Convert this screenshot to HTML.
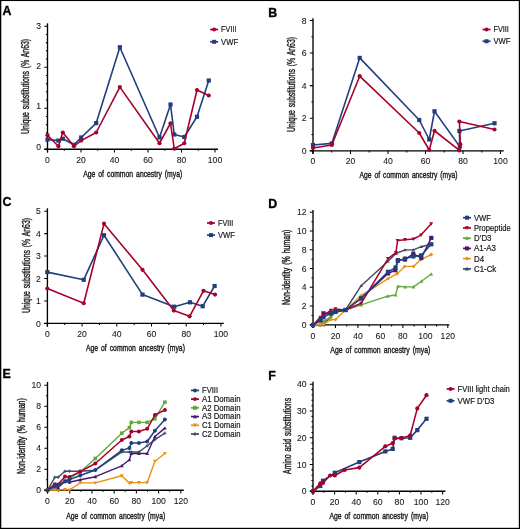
<!DOCTYPE html>
<html><head><meta charset="utf-8"><style>
html,body{margin:0;padding:0;background:#fff;}
svg{display:block;will-change:transform;}
</style></head><body>
<svg width="520" height="529" viewBox="0 0 520 529" font-family='"Liberation Sans", sans-serif'>
<rect width="520" height="529" fill="#fff"/>
<text x="2.6" y="14.7" font-size="12.4" text-anchor="start" font-weight="bold" fill="#000" stroke="#000" stroke-width="0.35">A</text>
<path d="M47.5,23.3V152.39999999999998" stroke="#000" stroke-width="1.35" fill="none"/>
<path d="M44.3,149.2H218" stroke="#000" stroke-width="1.35" fill="none"/>
<path d="M44.3,149.20H47.5M44.3,108.20H47.5M44.3,67.20H47.5M44.3,26.20H47.5M45.9,141.00H47.5M45.9,132.80H47.5M45.9,124.60H47.5M45.9,116.40H47.5M45.9,100.00H47.5M45.9,91.80H47.5M45.9,83.60H47.5M45.9,75.40H47.5M45.9,59.00H47.5M45.9,50.80H47.5M45.9,42.60H47.5M45.9,34.40H47.5M47.50,149.2V152.39999999999998M81.00,149.2V152.39999999999998M114.50,149.2V152.39999999999998M148.00,149.2V152.39999999999998M181.50,149.2V152.39999999999998M215.00,149.2V152.39999999999998M64.25,149.2V150.79999999999998M97.75,149.2V150.79999999999998M131.25,149.2V150.79999999999998M164.75,149.2V150.79999999999998M198.25,149.2V150.79999999999998" stroke="#000" stroke-width="1.05" fill="none"/>
<text x="41.0" y="149.7" font-size="8.6" text-anchor="end" font-weight="normal" fill="#1a1a1a" stroke="#1a1a1a" stroke-width="0.1">0</text>
<text x="41.0" y="109.44999999999999" font-size="8.6" text-anchor="end" font-weight="normal" fill="#1a1a1a" stroke="#1a1a1a" stroke-width="0.1">1</text>
<text x="41.0" y="69.19999999999999" font-size="8.6" text-anchor="end" font-weight="normal" fill="#1a1a1a" stroke="#1a1a1a" stroke-width="0.1">2</text>
<text x="41.0" y="28.949999999999996" font-size="8.6" text-anchor="end" font-weight="normal" fill="#1a1a1a" stroke="#1a1a1a" stroke-width="0.1">3</text>
<text x="47.5" y="162.79999999999998" font-size="8.6" text-anchor="middle" font-weight="normal" fill="#1a1a1a" stroke="#1a1a1a" stroke-width="0.1">0</text>
<text x="81.0" y="162.79999999999998" font-size="8.6" text-anchor="middle" font-weight="normal" fill="#1a1a1a" stroke="#1a1a1a" stroke-width="0.1">20</text>
<text x="114.5" y="162.79999999999998" font-size="8.6" text-anchor="middle" font-weight="normal" fill="#1a1a1a" stroke="#1a1a1a" stroke-width="0.1">40</text>
<text x="148.0" y="162.79999999999998" font-size="8.6" text-anchor="middle" font-weight="normal" fill="#1a1a1a" stroke="#1a1a1a" stroke-width="0.1">60</text>
<text x="181.5" y="162.79999999999998" font-size="8.6" text-anchor="middle" font-weight="normal" fill="#1a1a1a" stroke="#1a1a1a" stroke-width="0.1">80</text>
<text x="215.0" y="162.79999999999998" font-size="8.6" text-anchor="middle" font-weight="normal" fill="#1a1a1a" stroke="#1a1a1a" stroke-width="0.1">100</text>
<text transform="translate(29.3,86.4) rotate(-90)" font-size="10.2" text-anchor="middle" font-weight="normal" fill="#1a1a1a" textLength="95" lengthAdjust="spacingAndGlyphs" word-spacing="1.4" stroke="#1a1a1a" stroke-width="0.4">Unique substitutions (% An63)</text>
<text x="132.7" y="177.2" font-size="9.5" text-anchor="middle" font-weight="normal" fill="#1a1a1a" textLength="99" lengthAdjust="spacingAndGlyphs" word-spacing="1.6" stroke="#1a1a1a" stroke-width="0.4">Age of common ancestry (mya)</text>
<path d="M47.50,139.50 L58.40,140.60 L62.80,138.70 L74.00,144.80 L81.20,137.50 L96.20,123.10 L119.85,47.25 L159.50,137.50 L170.50,104.50 L174.25,134.50 L184.25,137.00 L197.00,116.75 L208.75,80.50" fill="none" stroke="#213f7e" stroke-width="1.6" stroke-linejoin="round"/>
<rect x="45.40" y="137.40" width="4.20" height="4.20" fill="#213f7e"/>
<rect x="56.30" y="138.50" width="4.20" height="4.20" fill="#213f7e"/>
<rect x="60.70" y="136.60" width="4.20" height="4.20" fill="#213f7e"/>
<rect x="71.90" y="142.70" width="4.20" height="4.20" fill="#213f7e"/>
<rect x="79.10" y="135.40" width="4.20" height="4.20" fill="#213f7e"/>
<rect x="94.10" y="121.00" width="4.20" height="4.20" fill="#213f7e"/>
<rect x="117.75" y="45.15" width="4.20" height="4.20" fill="#213f7e"/>
<rect x="157.40" y="135.40" width="4.20" height="4.20" fill="#213f7e"/>
<rect x="168.40" y="102.40" width="4.20" height="4.20" fill="#213f7e"/>
<rect x="172.15" y="132.40" width="4.20" height="4.20" fill="#213f7e"/>
<rect x="182.15" y="134.90" width="4.20" height="4.20" fill="#213f7e"/>
<rect x="194.90" y="114.65" width="4.20" height="4.20" fill="#213f7e"/>
<rect x="206.65" y="78.40" width="4.20" height="4.20" fill="#213f7e"/>
<path d="M47.50,135.20 L58.40,146.20 L62.80,132.50 L74.00,146.20 L81.20,140.60 L96.20,132.50 L119.85,87.10 L159.50,143.25 L170.50,123.25 L174.25,148.75 L184.25,143.25 L197.00,90.00 L208.75,95.50" fill="none" stroke="#a6022c" stroke-width="1.6" stroke-linejoin="round"/>
<circle cx="47.5" cy="135.2" r="2.1" fill="#a6022c"/>
<circle cx="58.4" cy="146.2" r="2.1" fill="#a6022c"/>
<circle cx="62.8" cy="132.5" r="2.1" fill="#a6022c"/>
<circle cx="74" cy="146.2" r="2.1" fill="#a6022c"/>
<circle cx="81.2" cy="140.6" r="2.1" fill="#a6022c"/>
<circle cx="96.2" cy="132.5" r="2.1" fill="#a6022c"/>
<circle cx="119.85" cy="87.1" r="2.1" fill="#a6022c"/>
<circle cx="159.5" cy="143.25" r="2.1" fill="#a6022c"/>
<circle cx="170.5" cy="123.25" r="2.1" fill="#a6022c"/>
<circle cx="174.25" cy="148.75" r="2.1" fill="#a6022c"/>
<circle cx="184.25" cy="143.25" r="2.1" fill="#a6022c"/>
<circle cx="197" cy="90" r="2.1" fill="#a6022c"/>
<circle cx="208.75" cy="95.5" r="2.1" fill="#a6022c"/>
<path d="M210.1,29.50H218.1" stroke="#a6022c" stroke-width="1.7"/>
<circle cx="214.1" cy="29.5" r="1.9949999999999999" fill="#a6022c"/>
<text x="221.1" y="32.4" font-size="8.2" text-anchor="start" font-weight="normal" fill="#1a1a1a" textLength="15.4" lengthAdjust="spacingAndGlyphs" stroke="#1a1a1a" stroke-width="0.2">FVIII</text>
<path d="M210.1,41.80H218.1" stroke="#213f7e" stroke-width="1.7"/>
<rect x="212.10" y="39.80" width="3.99" height="3.99" fill="#213f7e"/>
<text x="221.1" y="44.699999999999996" font-size="8.2" text-anchor="start" font-weight="normal" fill="#1a1a1a" textLength="17" lengthAdjust="spacingAndGlyphs" stroke="#1a1a1a" stroke-width="0.2">VWF</text>
<text x="268.2" y="16.5" font-size="12.4" text-anchor="start" font-weight="bold" fill="#000" stroke="#000" stroke-width="0.35">B</text>
<path d="M313,18.3V154.0" stroke="#000" stroke-width="1.35" fill="none"/>
<path d="M309.8,150.8H503.75" stroke="#000" stroke-width="1.35" fill="none"/>
<path d="M309.8,150.80H313M309.8,118.20H313M309.8,85.60H313M309.8,53.00H313M309.8,20.40H313M311.4,134.50H313M311.4,101.90H313M311.4,69.30H313M311.4,36.70H313M313.00,150.8V154.0M350.50,150.8V154.0M388.00,150.8V154.0M425.50,150.8V154.0M463.00,150.8V154.0M500.50,150.8V154.0M331.75,150.8V152.4M369.25,150.8V152.4M406.75,150.8V152.4M444.25,150.8V152.4M481.75,150.8V152.4" stroke="#000" stroke-width="1.05" fill="none"/>
<text x="306.5" y="153.9" font-size="8.6" text-anchor="end" font-weight="normal" fill="#1a1a1a" stroke="#1a1a1a" stroke-width="0.1">0</text>
<text x="306.5" y="121.30000000000001" font-size="8.6" text-anchor="end" font-weight="normal" fill="#1a1a1a" stroke="#1a1a1a" stroke-width="0.1">2</text>
<text x="306.5" y="88.7" font-size="8.6" text-anchor="end" font-weight="normal" fill="#1a1a1a" stroke="#1a1a1a" stroke-width="0.1">4</text>
<text x="306.5" y="56.1" font-size="8.6" text-anchor="end" font-weight="normal" fill="#1a1a1a" stroke="#1a1a1a" stroke-width="0.1">6</text>
<text x="306.5" y="23.500000000000007" font-size="8.6" text-anchor="end" font-weight="normal" fill="#1a1a1a" stroke="#1a1a1a" stroke-width="0.1">8</text>
<text x="313.0" y="164.4" font-size="8.6" text-anchor="middle" font-weight="normal" fill="#1a1a1a" stroke="#1a1a1a" stroke-width="0.1">0</text>
<text x="350.5" y="164.4" font-size="8.6" text-anchor="middle" font-weight="normal" fill="#1a1a1a" stroke="#1a1a1a" stroke-width="0.1">20</text>
<text x="388.0" y="164.4" font-size="8.6" text-anchor="middle" font-weight="normal" fill="#1a1a1a" stroke="#1a1a1a" stroke-width="0.1">40</text>
<text x="425.5" y="164.4" font-size="8.6" text-anchor="middle" font-weight="normal" fill="#1a1a1a" stroke="#1a1a1a" stroke-width="0.1">60</text>
<text x="463.0" y="164.4" font-size="8.6" text-anchor="middle" font-weight="normal" fill="#1a1a1a" stroke="#1a1a1a" stroke-width="0.1">80</text>
<text x="500.5" y="164.4" font-size="8.6" text-anchor="middle" font-weight="normal" fill="#1a1a1a" stroke="#1a1a1a" stroke-width="0.1">100</text>
<text transform="translate(294.6,84.5) rotate(-90)" font-size="10.2" text-anchor="middle" font-weight="normal" fill="#1a1a1a" textLength="95" lengthAdjust="spacingAndGlyphs" word-spacing="1.4" stroke="#1a1a1a" stroke-width="0.4">Unique substitutions (% An63)</text>
<text x="408.5" y="178" font-size="9.5" text-anchor="middle" font-weight="normal" fill="#1a1a1a" textLength="98" lengthAdjust="spacingAndGlyphs" word-spacing="1.6" stroke="#1a1a1a" stroke-width="0.4">Age of common ancestry (mya)</text>
<path d="M313.00,145.00 L331.80,143.40 L359.70,57.90 L419.25,120.00 L429.25,139.50 L434.50,111.25 L459.80,146.60 L459.40,131.00 L494.50,123.25" fill="none" stroke="#213f7e" stroke-width="1.6" stroke-linejoin="round"/>
<rect x="310.90" y="142.90" width="4.20" height="4.20" fill="#213f7e"/>
<rect x="329.70" y="141.30" width="4.20" height="4.20" fill="#213f7e"/>
<rect x="357.60" y="55.80" width="4.20" height="4.20" fill="#213f7e"/>
<rect x="417.15" y="117.90" width="4.20" height="4.20" fill="#213f7e"/>
<rect x="427.15" y="137.40" width="4.20" height="4.20" fill="#213f7e"/>
<rect x="432.40" y="109.15" width="4.20" height="4.20" fill="#213f7e"/>
<rect x="457.70" y="144.50" width="4.20" height="4.20" fill="#213f7e"/>
<rect x="457.30" y="128.90" width="4.20" height="4.20" fill="#213f7e"/>
<rect x="492.40" y="121.15" width="4.20" height="4.20" fill="#213f7e"/>
<path d="M313.00,148.00 L331.80,145.00 L359.70,76.20 L419.25,133.00 L429.25,150.00 L434.50,130.75 L459.40,150.40 L460.30,144.20 L459.40,121.50 L494.50,129.50" fill="none" stroke="#a6022c" stroke-width="1.6" stroke-linejoin="round"/>
<circle cx="313" cy="148" r="2.1" fill="#a6022c"/>
<circle cx="331.8" cy="145" r="2.1" fill="#a6022c"/>
<circle cx="359.7" cy="76.2" r="2.1" fill="#a6022c"/>
<circle cx="419.25" cy="133" r="2.1" fill="#a6022c"/>
<circle cx="429.25" cy="150" r="2.1" fill="#a6022c"/>
<circle cx="434.5" cy="130.75" r="2.1" fill="#a6022c"/>
<circle cx="459.4" cy="150.4" r="2.1" fill="#a6022c"/>
<circle cx="460.3" cy="144.2" r="2.1" fill="#a6022c"/>
<circle cx="459.4" cy="121.5" r="2.1" fill="#a6022c"/>
<circle cx="494.5" cy="129.5" r="2.1" fill="#a6022c"/>
<path d="M482.5,29.50H490.5" stroke="#a6022c" stroke-width="1.7"/>
<circle cx="486.5" cy="29.5" r="1.9949999999999999" fill="#a6022c"/>
<text x="493.5" y="32.4" font-size="8.2" text-anchor="start" font-weight="normal" fill="#1a1a1a" textLength="15.4" lengthAdjust="spacingAndGlyphs" stroke="#1a1a1a" stroke-width="0.2">FVIII</text>
<path d="M482.5,41.25H490.5" stroke="#213f7e" stroke-width="1.7"/>
<rect x="484.50" y="39.26" width="3.99" height="3.99" fill="#213f7e"/>
<text x="493.5" y="44.15" font-size="8.2" text-anchor="start" font-weight="normal" fill="#1a1a1a" textLength="17" lengthAdjust="spacingAndGlyphs" stroke="#1a1a1a" stroke-width="0.2">VWF</text>
<text x="2.4" y="206.2" font-size="12.4" text-anchor="start" font-weight="bold" fill="#000" stroke="#000" stroke-width="0.35">C</text>
<path d="M47.4,208.3V326.59999999999997" stroke="#000" stroke-width="1.35" fill="none"/>
<path d="M44.199999999999996,323.4H223.8" stroke="#000" stroke-width="1.35" fill="none"/>
<path d="M44.199999999999996,323.40H47.4M44.199999999999996,300.95H47.4M44.199999999999996,278.50H47.4M44.199999999999996,256.05H47.4M44.199999999999996,233.60H47.4M44.199999999999996,211.15H47.4M47.40,323.4V326.59999999999997M82.10,323.4V326.59999999999997M116.80,323.4V326.59999999999997M151.50,323.4V326.59999999999997M186.20,323.4V326.59999999999997M220.90,323.4V326.59999999999997M64.75,323.4V325.0M99.45,323.4V325.0M134.15,323.4V325.0M168.85,323.4V325.0M203.55,323.4V325.0" stroke="#000" stroke-width="1.05" fill="none"/>
<text x="40.9" y="326.5" font-size="8.6" text-anchor="end" font-weight="normal" fill="#1a1a1a" stroke="#1a1a1a" stroke-width="0.1">0</text>
<text x="40.9" y="304.05" font-size="8.6" text-anchor="end" font-weight="normal" fill="#1a1a1a" stroke="#1a1a1a" stroke-width="0.1">1</text>
<text x="40.9" y="281.6" font-size="8.6" text-anchor="end" font-weight="normal" fill="#1a1a1a" stroke="#1a1a1a" stroke-width="0.1">2</text>
<text x="40.9" y="259.15" font-size="8.6" text-anchor="end" font-weight="normal" fill="#1a1a1a" stroke="#1a1a1a" stroke-width="0.1">3</text>
<text x="40.9" y="236.69999999999996" font-size="8.6" text-anchor="end" font-weight="normal" fill="#1a1a1a" stroke="#1a1a1a" stroke-width="0.1">4</text>
<text x="40.9" y="214.24999999999997" font-size="8.6" text-anchor="end" font-weight="normal" fill="#1a1a1a" stroke="#1a1a1a" stroke-width="0.1">5</text>
<text x="47.4" y="337.0" font-size="8.6" text-anchor="middle" font-weight="normal" fill="#1a1a1a" stroke="#1a1a1a" stroke-width="0.1">0</text>
<text x="82.1" y="337.0" font-size="8.6" text-anchor="middle" font-weight="normal" fill="#1a1a1a" stroke="#1a1a1a" stroke-width="0.1">20</text>
<text x="116.80000000000001" y="337.0" font-size="8.6" text-anchor="middle" font-weight="normal" fill="#1a1a1a" stroke="#1a1a1a" stroke-width="0.1">40</text>
<text x="151.5" y="337.0" font-size="8.6" text-anchor="middle" font-weight="normal" fill="#1a1a1a" stroke="#1a1a1a" stroke-width="0.1">60</text>
<text x="186.20000000000002" y="337.0" font-size="8.6" text-anchor="middle" font-weight="normal" fill="#1a1a1a" stroke="#1a1a1a" stroke-width="0.1">80</text>
<text x="220.9" y="337.0" font-size="8.6" text-anchor="middle" font-weight="normal" fill="#1a1a1a" stroke="#1a1a1a" stroke-width="0.1">100</text>
<text transform="translate(29.8,265.5) rotate(-90)" font-size="10.2" text-anchor="middle" font-weight="normal" fill="#1a1a1a" textLength="95" lengthAdjust="spacingAndGlyphs" word-spacing="1.4" stroke="#1a1a1a" stroke-width="0.4">Unique substitutions (% An63)</text>
<text x="135.4" y="351" font-size="9.5" text-anchor="middle" font-weight="normal" fill="#1a1a1a" textLength="99" lengthAdjust="spacingAndGlyphs" word-spacing="1.6" stroke="#1a1a1a" stroke-width="0.4">Age of common ancestry (mya)</text>
<path d="M47.30,272.10 L83.70,279.80 L104.00,235.20 L142.50,294.60 L174.20,306.70 L190.00,302.30 L202.70,306.20 L214.60,286.00" fill="none" stroke="#213f7e" stroke-width="1.6" stroke-linejoin="round"/>
<rect x="45.20" y="270.00" width="4.20" height="4.20" fill="#213f7e"/>
<rect x="81.60" y="277.70" width="4.20" height="4.20" fill="#213f7e"/>
<rect x="101.90" y="233.10" width="4.20" height="4.20" fill="#213f7e"/>
<rect x="140.40" y="292.50" width="4.20" height="4.20" fill="#213f7e"/>
<rect x="172.10" y="304.60" width="4.20" height="4.20" fill="#213f7e"/>
<rect x="187.90" y="300.20" width="4.20" height="4.20" fill="#213f7e"/>
<rect x="200.60" y="304.10" width="4.20" height="4.20" fill="#213f7e"/>
<rect x="212.50" y="283.90" width="4.20" height="4.20" fill="#213f7e"/>
<path d="M47.30,288.50 L83.75,303.25 L104.00,223.65 L142.50,269.80 L173.80,310.60 L189.60,316.30 L203.50,290.80 L215.00,294.60" fill="none" stroke="#a6022c" stroke-width="1.6" stroke-linejoin="round"/>
<circle cx="47.3" cy="288.5" r="2.1" fill="#a6022c"/>
<circle cx="83.75" cy="303.25" r="2.1" fill="#a6022c"/>
<circle cx="104" cy="223.65" r="2.1" fill="#a6022c"/>
<circle cx="142.5" cy="269.8" r="2.1" fill="#a6022c"/>
<circle cx="173.8" cy="310.6" r="2.1" fill="#a6022c"/>
<circle cx="189.6" cy="316.3" r="2.1" fill="#a6022c"/>
<circle cx="203.5" cy="290.8" r="2.1" fill="#a6022c"/>
<circle cx="215" cy="294.6" r="2.1" fill="#a6022c"/>
<path d="M207,223.00H215" stroke="#a6022c" stroke-width="1.7"/>
<circle cx="211" cy="223.0" r="1.9949999999999999" fill="#a6022c"/>
<text x="218" y="225.9" font-size="8.2" text-anchor="start" font-weight="normal" fill="#1a1a1a" textLength="15.4" lengthAdjust="spacingAndGlyphs" stroke="#1a1a1a" stroke-width="0.2">FVIII</text>
<path d="M207,235.10H215" stroke="#213f7e" stroke-width="1.7"/>
<rect x="209.00" y="233.10" width="3.99" height="3.99" fill="#213f7e"/>
<text x="218" y="238.0" font-size="8.2" text-anchor="start" font-weight="normal" fill="#1a1a1a" textLength="17" lengthAdjust="spacingAndGlyphs" stroke="#1a1a1a" stroke-width="0.2">VWF</text>
<text x="268.2" y="207.6" font-size="12.4" text-anchor="start" font-weight="bold" fill="#000" stroke="#000" stroke-width="0.35">D</text>
<path d="M313,210V328.0" stroke="#000" stroke-width="1.35" fill="none"/>
<path d="M309.8,324.8H449.4" stroke="#000" stroke-width="1.35" fill="none"/>
<path d="M309.8,324.80H313M309.8,306.05H313M309.8,287.30H313M309.8,268.55H313M309.8,249.80H313M309.8,231.05H313M309.8,212.30H313M311.4,315.43H313M311.4,296.68H313M311.4,277.93H313M311.4,259.18H313M311.4,240.43H313M311.4,221.68H313M313.00,324.8V328.0M335.47,324.8V328.0M357.93,324.8V328.0M380.40,324.8V328.0M402.86,324.8V328.0M425.33,324.8V328.0M447.80,324.8V328.0M324.23,324.8V326.40000000000003M346.70,324.8V326.40000000000003M369.17,324.8V326.40000000000003M391.63,324.8V326.40000000000003M414.10,324.8V326.40000000000003M436.56,324.8V326.40000000000003" stroke="#000" stroke-width="1.05" fill="none"/>
<text x="306.5" y="327.90000000000003" font-size="8.6" text-anchor="end" font-weight="normal" fill="#1a1a1a" stroke="#1a1a1a" stroke-width="0.1">0</text>
<text x="306.5" y="309.15000000000003" font-size="8.6" text-anchor="end" font-weight="normal" fill="#1a1a1a" stroke="#1a1a1a" stroke-width="0.1">2</text>
<text x="306.5" y="290.40000000000003" font-size="8.6" text-anchor="end" font-weight="normal" fill="#1a1a1a" stroke="#1a1a1a" stroke-width="0.1">4</text>
<text x="306.5" y="271.65000000000003" font-size="8.6" text-anchor="end" font-weight="normal" fill="#1a1a1a" stroke="#1a1a1a" stroke-width="0.1">6</text>
<text x="306.5" y="252.9" font-size="8.6" text-anchor="end" font-weight="normal" fill="#1a1a1a" stroke="#1a1a1a" stroke-width="0.1">8</text>
<text x="306.5" y="234.15" font-size="8.6" text-anchor="end" font-weight="normal" fill="#1a1a1a" stroke="#1a1a1a" stroke-width="0.1">10</text>
<text x="306.5" y="215.4" font-size="8.6" text-anchor="end" font-weight="normal" fill="#1a1a1a" stroke="#1a1a1a" stroke-width="0.1">12</text>
<text x="313.0" y="339.1" font-size="8.6" text-anchor="middle" font-weight="normal" fill="#1a1a1a" stroke="#1a1a1a" stroke-width="0.1">0</text>
<text x="335.466" y="339.1" font-size="8.6" text-anchor="middle" font-weight="normal" fill="#1a1a1a" stroke="#1a1a1a" stroke-width="0.1">20</text>
<text x="357.932" y="339.1" font-size="8.6" text-anchor="middle" font-weight="normal" fill="#1a1a1a" stroke="#1a1a1a" stroke-width="0.1">40</text>
<text x="380.398" y="339.1" font-size="8.6" text-anchor="middle" font-weight="normal" fill="#1a1a1a" stroke="#1a1a1a" stroke-width="0.1">60</text>
<text x="402.86400000000003" y="339.1" font-size="8.6" text-anchor="middle" font-weight="normal" fill="#1a1a1a" stroke="#1a1a1a" stroke-width="0.1">80</text>
<text x="425.33" y="339.1" font-size="8.6" text-anchor="middle" font-weight="normal" fill="#1a1a1a" stroke="#1a1a1a" stroke-width="0.1">100</text>
<text x="447.796" y="339.1" font-size="8.6" text-anchor="middle" font-weight="normal" fill="#1a1a1a" stroke="#1a1a1a" stroke-width="0.1">120</text>
<text transform="translate(290.1,267.3) rotate(-90)" font-size="10.2" text-anchor="middle" font-weight="normal" fill="#1a1a1a" textLength="75.5" lengthAdjust="spacingAndGlyphs" word-spacing="1.4" stroke="#1a1a1a" stroke-width="0.4">Non-identity (% human)</text>
<text x="380.3" y="352.5" font-size="9.5" text-anchor="middle" font-weight="normal" fill="#1a1a1a" textLength="100" lengthAdjust="spacingAndGlyphs" word-spacing="1.6" stroke="#1a1a1a" stroke-width="0.4">Age of common ancestry (mya)</text>
<path d="M313.00,325.00 L320.40,325.00 L323.50,324.20 L330.80,316.50 L335.40,312.00 L345.50,310.00 L361.20,285.70 L388.00,261.20 L396.00,253.50 L405.00,249.90 L413.30,249.90 L421.30,246.70 L431.30,244.30" fill="none" stroke="#3c4a64" stroke-width="1.4" stroke-linejoin="round"/>
<path d="M311.24,326.41L314.76,326.41L313.00,323.24Z" fill="#3c4a64"/>
<path d="M318.64,326.41L322.16,326.41L320.40,323.24Z" fill="#3c4a64"/>
<path d="M321.74,325.61L325.26,325.61L323.50,322.44Z" fill="#3c4a64"/>
<path d="M329.04,317.91L332.56,317.91L330.80,314.74Z" fill="#3c4a64"/>
<path d="M333.64,313.41L337.16,313.41L335.40,310.24Z" fill="#3c4a64"/>
<path d="M343.74,311.41L347.26,311.41L345.50,308.24Z" fill="#3c4a64"/>
<path d="M359.44,287.11L362.96,287.11L361.20,283.94Z" fill="#3c4a64"/>
<path d="M386.24,262.61L389.76,262.61L388.00,259.44Z" fill="#3c4a64"/>
<path d="M394.24,254.91L397.76,254.91L396.00,251.74Z" fill="#3c4a64"/>
<path d="M403.24,251.31L406.76,251.31L405.00,248.14Z" fill="#3c4a64"/>
<path d="M411.54,251.31L415.06,251.31L413.30,248.14Z" fill="#3c4a64"/>
<path d="M419.54,248.11L423.06,248.11L421.30,244.94Z" fill="#3c4a64"/>
<path d="M429.54,245.71L433.06,245.71L431.30,242.54Z" fill="#3c4a64"/>
<path d="M313.00,325.00 L320.40,325.00 L323.50,321.40 L330.80,317.00 L335.40,312.50 L345.50,310.00 L361.20,304.90 L387.50,296.20 L395.60,295.00 L397.90,286.30 L405.20,286.90 L413.50,286.90 L421.50,281.20 L431.30,274.00" fill="none" stroke="#62a83c" stroke-width="1.4" stroke-linejoin="round"/>
<path d="M311.13,326.50L314.87,326.50L313.00,323.13Z" fill="#62a83c"/>
<path d="M318.53,326.50L322.27,326.50L320.40,323.13Z" fill="#62a83c"/>
<path d="M321.63,322.90L325.37,322.90L323.50,319.53Z" fill="#62a83c"/>
<path d="M328.93,318.50L332.67,318.50L330.80,315.13Z" fill="#62a83c"/>
<path d="M333.53,314.00L337.27,314.00L335.40,310.63Z" fill="#62a83c"/>
<path d="M343.63,311.50L347.37,311.50L345.50,308.13Z" fill="#62a83c"/>
<path d="M359.33,306.40L363.07,306.40L361.20,303.03Z" fill="#62a83c"/>
<path d="M385.63,297.70L389.37,297.70L387.50,294.33Z" fill="#62a83c"/>
<path d="M393.73,296.50L397.47,296.50L395.60,293.13Z" fill="#62a83c"/>
<path d="M396.03,287.80L399.77,287.80L397.90,284.43Z" fill="#62a83c"/>
<path d="M403.33,288.40L407.07,288.40L405.20,285.03Z" fill="#62a83c"/>
<path d="M411.63,288.40L415.37,288.40L413.50,285.03Z" fill="#62a83c"/>
<path d="M419.63,282.70L423.37,282.70L421.50,279.33Z" fill="#62a83c"/>
<path d="M429.43,275.50L433.17,275.50L431.30,272.13Z" fill="#62a83c"/>
<path d="M313.00,325.00 L320.40,324.20 L323.50,324.40 L330.80,319.60 L335.50,319.60 L345.50,310.00 L361.20,295.60 L388.10,278.60 L397.10,273.70 L404.80,266.40 L413.50,266.40 L420.70,259.60 L431.30,254.50" fill="none" stroke="#e9920f" stroke-width="1.4" stroke-linejoin="round"/>
<path d="M311.05,325.00L313.00,323.05L314.95,325.00L313.00,326.95Z" fill="#e9920f"/>
<path d="M318.44,324.20L320.40,322.25L322.35,324.20L320.40,326.15Z" fill="#e9920f"/>
<path d="M321.55,324.40L323.50,322.44L325.45,324.40L323.50,326.35Z" fill="#e9920f"/>
<path d="M328.85,319.60L330.80,317.65L332.75,319.60L330.80,321.56Z" fill="#e9920f"/>
<path d="M333.55,319.60L335.50,317.65L337.45,319.60L335.50,321.56Z" fill="#e9920f"/>
<path d="M343.55,310.00L345.50,308.05L347.45,310.00L345.50,311.95Z" fill="#e9920f"/>
<path d="M359.25,295.60L361.20,293.65L363.15,295.60L361.20,297.56Z" fill="#e9920f"/>
<path d="M386.15,278.60L388.10,276.65L390.06,278.60L388.10,280.56Z" fill="#e9920f"/>
<path d="M395.15,273.70L397.10,271.75L399.06,273.70L397.10,275.65Z" fill="#e9920f"/>
<path d="M402.85,266.40L404.80,264.44L406.75,266.40L404.80,268.35Z" fill="#e9920f"/>
<path d="M411.55,266.40L413.50,264.44L415.45,266.40L413.50,268.35Z" fill="#e9920f"/>
<path d="M418.75,259.60L420.70,257.65L422.65,259.60L420.70,261.56Z" fill="#e9920f"/>
<path d="M429.35,254.50L431.30,252.54L433.25,254.50L431.30,256.45Z" fill="#e9920f"/>
<path d="M313.00,325.00 L320.40,320.50 L323.50,313.30 L330.80,313.50 L335.40,311.80 L345.50,310.00 L361.20,298.50 L388.00,273.40 L395.30,270.20 L398.00,260.20 L405.00,259.60 L413.30,253.80 L421.30,258.00 L431.30,237.90" fill="none" stroke="#46186f" stroke-width="1.5" stroke-linejoin="round"/>
<rect x="310.90" y="322.90" width="4.20" height="4.20" fill="#46186f"/>
<rect x="318.30" y="318.40" width="4.20" height="4.20" fill="#46186f"/>
<rect x="321.40" y="311.20" width="4.20" height="4.20" fill="#46186f"/>
<rect x="328.70" y="311.40" width="4.20" height="4.20" fill="#46186f"/>
<rect x="333.30" y="309.70" width="4.20" height="4.20" fill="#46186f"/>
<rect x="343.40" y="307.90" width="4.20" height="4.20" fill="#46186f"/>
<rect x="359.10" y="296.40" width="4.20" height="4.20" fill="#46186f"/>
<rect x="385.90" y="271.30" width="4.20" height="4.20" fill="#46186f"/>
<rect x="393.20" y="268.10" width="4.20" height="4.20" fill="#46186f"/>
<rect x="395.90" y="258.10" width="4.20" height="4.20" fill="#46186f"/>
<rect x="402.90" y="257.50" width="4.20" height="4.20" fill="#46186f"/>
<rect x="411.20" y="251.70" width="4.20" height="4.20" fill="#46186f"/>
<rect x="419.20" y="255.90" width="4.20" height="4.20" fill="#46186f"/>
<rect x="429.20" y="235.80" width="4.20" height="4.20" fill="#46186f"/>
<path d="M313.00,325.00 L320.40,317.30 L323.50,315.30 L330.80,310.40 L335.40,308.90 L345.50,310.00 L361.20,303.30 L388.00,258.60 L395.90,252.70 L397.60,240.60 L405.00,239.70 L413.40,239.00 L421.00,235.10 L431.20,223.80" fill="none" stroke="#a6022c" stroke-width="1.5" stroke-linejoin="round"/>
<path d="M311.02,323.42L314.98,323.42L313.00,326.98Z" fill="#a6022c"/>
<path d="M318.42,315.72L322.38,315.72L320.40,319.28Z" fill="#a6022c"/>
<path d="M321.52,313.72L325.48,313.72L323.50,317.28Z" fill="#a6022c"/>
<path d="M328.82,308.82L332.78,308.82L330.80,312.38Z" fill="#a6022c"/>
<path d="M333.42,307.32L337.38,307.32L335.40,310.88Z" fill="#a6022c"/>
<path d="M343.52,308.42L347.48,308.42L345.50,311.98Z" fill="#a6022c"/>
<path d="M359.22,301.72L363.18,301.72L361.20,305.28Z" fill="#a6022c"/>
<path d="M386.02,257.02L389.98,257.02L388.00,260.58Z" fill="#a6022c"/>
<path d="M393.92,251.12L397.88,251.12L395.90,254.68Z" fill="#a6022c"/>
<path d="M395.62,239.02L399.58,239.02L397.60,242.58Z" fill="#a6022c"/>
<path d="M403.02,238.12L406.98,238.12L405.00,241.68Z" fill="#a6022c"/>
<path d="M411.42,237.42L415.38,237.42L413.40,240.98Z" fill="#a6022c"/>
<path d="M419.02,233.52L422.98,233.52L421.00,237.08Z" fill="#a6022c"/>
<path d="M429.22,222.22L433.18,222.22L431.20,225.78Z" fill="#a6022c"/>
<path d="M313.00,325.00 L320.40,319.60 L323.50,317.30 L330.80,313.00 L335.40,311.50 L345.50,310.00 L361.20,298.30 L388.00,271.80 L395.50,267.60 L397.80,260.70 L405.00,258.60 L413.40,256.40 L421.00,255.40 L431.30,244.30" fill="none" stroke="#213f7e" stroke-width="1.5" stroke-linejoin="round"/>
<rect x="310.90" y="322.90" width="4.20" height="4.20" fill="#213f7e"/>
<rect x="318.30" y="317.50" width="4.20" height="4.20" fill="#213f7e"/>
<rect x="321.40" y="315.20" width="4.20" height="4.20" fill="#213f7e"/>
<rect x="328.70" y="310.90" width="4.20" height="4.20" fill="#213f7e"/>
<rect x="333.30" y="309.40" width="4.20" height="4.20" fill="#213f7e"/>
<rect x="343.40" y="307.90" width="4.20" height="4.20" fill="#213f7e"/>
<rect x="359.10" y="296.20" width="4.20" height="4.20" fill="#213f7e"/>
<rect x="385.90" y="269.70" width="4.20" height="4.20" fill="#213f7e"/>
<rect x="393.40" y="265.50" width="4.20" height="4.20" fill="#213f7e"/>
<rect x="395.70" y="258.60" width="4.20" height="4.20" fill="#213f7e"/>
<rect x="402.90" y="256.50" width="4.20" height="4.20" fill="#213f7e"/>
<rect x="411.30" y="254.30" width="4.20" height="4.20" fill="#213f7e"/>
<rect x="418.90" y="253.30" width="4.20" height="4.20" fill="#213f7e"/>
<rect x="429.20" y="242.20" width="4.20" height="4.20" fill="#213f7e"/>
<path d="M463,217.70H471" stroke="#213f7e" stroke-width="1.7"/>
<rect x="465.00" y="215.70" width="3.99" height="3.99" fill="#213f7e"/>
<text x="474" y="220.6" font-size="8.2" text-anchor="start" font-weight="normal" fill="#1a1a1a" textLength="17" lengthAdjust="spacingAndGlyphs" stroke="#1a1a1a" stroke-width="0.2">VWF</text>
<path d="M463,227.93H471" stroke="#a6022c" stroke-width="1.7"/>
<path d="M464.91,226.26L469.09,226.26L467.00,230.02Z" fill="#a6022c"/>
<text x="474" y="230.82999999999998" font-size="8.2" text-anchor="start" font-weight="normal" fill="#1a1a1a" textLength="36.8" lengthAdjust="spacingAndGlyphs" stroke="#1a1a1a" stroke-width="0.2">Propeptide</text>
<path d="M463,238.16H471" stroke="#62a83c" stroke-width="1.7"/>
<path d="M464.91,239.83L469.09,239.83L467.00,236.07Z" fill="#62a83c"/>
<text x="474" y="241.06" font-size="8.2" text-anchor="start" font-weight="normal" fill="#1a1a1a" textLength="17.5" lengthAdjust="spacingAndGlyphs" stroke="#1a1a1a" stroke-width="0.2">D&#8217;D3</text>
<path d="M463,248.39H471" stroke="#46186f" stroke-width="1.7"/>
<rect x="465.00" y="246.39" width="3.99" height="3.99" fill="#46186f"/>
<text x="474" y="251.29" font-size="8.2" text-anchor="start" font-weight="normal" fill="#1a1a1a" textLength="22" lengthAdjust="spacingAndGlyphs" stroke="#1a1a1a" stroke-width="0.2">A1-A3</text>
<path d="M463,258.62H471" stroke="#e9920f" stroke-width="1.7"/>
<path d="M464.81,258.62L467.00,256.44L469.19,258.62L467.00,260.81Z" fill="#e9920f"/>
<text x="474" y="261.52" font-size="8.2" text-anchor="start" font-weight="normal" fill="#1a1a1a" textLength="10" lengthAdjust="spacingAndGlyphs" stroke="#1a1a1a" stroke-width="0.2">D4</text>
<path d="M463,268.85H471" stroke="#3c4a64" stroke-width="1.7"/>
<path d="M464.91,270.52L469.09,270.52L467.00,266.76Z" fill="#3c4a64"/>
<text x="474" y="271.75" font-size="8.2" text-anchor="start" font-weight="normal" fill="#1a1a1a" textLength="22.3" lengthAdjust="spacingAndGlyphs" stroke="#1a1a1a" stroke-width="0.2">C1-Ck</text>
<text x="2.6" y="378.4" font-size="12.4" text-anchor="start" font-weight="bold" fill="#000" stroke="#000" stroke-width="0.35">E</text>
<path d="M47.5,382V493.4" stroke="#000" stroke-width="1.35" fill="none"/>
<path d="M44.3,490.2H183.8" stroke="#000" stroke-width="1.35" fill="none"/>
<path d="M44.3,490.20H47.5M44.3,469.20H47.5M44.3,448.20H47.5M44.3,427.20H47.5M44.3,406.20H47.5M44.3,385.20H47.5M45.9,479.70H47.5M45.9,458.70H47.5M45.9,437.70H47.5M45.9,416.70H47.5M45.9,395.70H47.5M47.50,490.2V493.4M69.72,490.2V493.4M91.94,490.2V493.4M114.16,490.2V493.4M136.38,490.2V493.4M158.60,490.2V493.4M180.82,490.2V493.4M58.61,490.2V491.8M80.83,490.2V491.8M103.05,490.2V491.8M125.27,490.2V491.8M147.49,490.2V491.8M169.71,490.2V491.8" stroke="#000" stroke-width="1.05" fill="none"/>
<text x="41.0" y="493.3" font-size="8.6" text-anchor="end" font-weight="normal" fill="#1a1a1a" stroke="#1a1a1a" stroke-width="0.1">0</text>
<text x="41.0" y="472.3" font-size="8.6" text-anchor="end" font-weight="normal" fill="#1a1a1a" stroke="#1a1a1a" stroke-width="0.1">2</text>
<text x="41.0" y="451.3" font-size="8.6" text-anchor="end" font-weight="normal" fill="#1a1a1a" stroke="#1a1a1a" stroke-width="0.1">4</text>
<text x="41.0" y="430.3" font-size="8.6" text-anchor="end" font-weight="normal" fill="#1a1a1a" stroke="#1a1a1a" stroke-width="0.1">6</text>
<text x="41.0" y="409.3" font-size="8.6" text-anchor="end" font-weight="normal" fill="#1a1a1a" stroke="#1a1a1a" stroke-width="0.1">8</text>
<text x="41.0" y="388.3" font-size="8.6" text-anchor="end" font-weight="normal" fill="#1a1a1a" stroke="#1a1a1a" stroke-width="0.1">10</text>
<text x="47.5" y="503.8" font-size="8.6" text-anchor="middle" font-weight="normal" fill="#1a1a1a" stroke="#1a1a1a" stroke-width="0.1">0</text>
<text x="69.72" y="503.8" font-size="8.6" text-anchor="middle" font-weight="normal" fill="#1a1a1a" stroke="#1a1a1a" stroke-width="0.1">20</text>
<text x="91.94" y="503.8" font-size="8.6" text-anchor="middle" font-weight="normal" fill="#1a1a1a" stroke="#1a1a1a" stroke-width="0.1">40</text>
<text x="114.16" y="503.8" font-size="8.6" text-anchor="middle" font-weight="normal" fill="#1a1a1a" stroke="#1a1a1a" stroke-width="0.1">60</text>
<text x="136.38" y="503.8" font-size="8.6" text-anchor="middle" font-weight="normal" fill="#1a1a1a" stroke="#1a1a1a" stroke-width="0.1">80</text>
<text x="158.6" y="503.8" font-size="8.6" text-anchor="middle" font-weight="normal" fill="#1a1a1a" stroke="#1a1a1a" stroke-width="0.1">100</text>
<text x="180.82" y="503.8" font-size="8.6" text-anchor="middle" font-weight="normal" fill="#1a1a1a" stroke="#1a1a1a" stroke-width="0.1">120</text>
<text transform="translate(24.6,436.1) rotate(-90)" font-size="10.2" text-anchor="middle" font-weight="normal" fill="#1a1a1a" textLength="76" lengthAdjust="spacingAndGlyphs" word-spacing="1.4" stroke="#1a1a1a" stroke-width="0.4">Non-identity (% human)</text>
<text x="115.7" y="518.5" font-size="9.5" text-anchor="middle" font-weight="normal" fill="#1a1a1a" textLength="99" lengthAdjust="spacingAndGlyphs" word-spacing="1.6" stroke="#1a1a1a" stroke-width="0.4">Age of common ancestry (mya)</text>
<path d="M47.50,490.20 L54.80,490.00 L58.10,490.00 L65.00,489.50 L69.50,490.00 L80.20,482.90 L95.30,482.90 L121.80,475.80 L129.40,483.30 L131.30,482.60 L138.90,482.60 L147.20,482.60 L154.90,461.20 L164.90,453.50" fill="none" stroke="#e9920f" stroke-width="1.4" stroke-linejoin="round"/>
<path d="M45.63,488.70L49.37,488.70L47.50,492.07Z" fill="#e9920f"/>
<path d="M52.93,488.50L56.67,488.50L54.80,491.87Z" fill="#e9920f"/>
<path d="M56.23,488.50L59.97,488.50L58.10,491.87Z" fill="#e9920f"/>
<path d="M63.13,488.00L66.87,488.00L65.00,491.37Z" fill="#e9920f"/>
<path d="M67.63,488.50L71.37,488.50L69.50,491.87Z" fill="#e9920f"/>
<path d="M78.33,481.40L82.07,481.40L80.20,484.77Z" fill="#e9920f"/>
<path d="M93.43,481.40L97.17,481.40L95.30,484.77Z" fill="#e9920f"/>
<path d="M119.93,474.30L123.67,474.30L121.80,477.67Z" fill="#e9920f"/>
<path d="M127.53,481.80L131.27,481.80L129.40,485.17Z" fill="#e9920f"/>
<path d="M129.43,481.10L133.17,481.10L131.30,484.47Z" fill="#e9920f"/>
<path d="M137.03,481.10L140.77,481.10L138.90,484.47Z" fill="#e9920f"/>
<path d="M145.33,481.10L149.07,481.10L147.20,484.47Z" fill="#e9920f"/>
<path d="M153.03,459.70L156.77,459.70L154.90,463.07Z" fill="#e9920f"/>
<path d="M163.03,452.00L166.77,452.00L164.90,455.37Z" fill="#e9920f"/>
<path d="M47.50,490.20 L54.80,477.30 L58.10,477.30 L65.00,471.20 L69.50,471.20 L80.20,471.20 L95.30,470.20 L121.80,451.90 L129.40,452.00 L131.30,452.00 L138.90,452.00 L147.20,445.80 L154.90,439.60 L164.90,433.20" fill="none" stroke="#3c4a64" stroke-width="1.4" stroke-linejoin="round"/>
<path d="M45.90,490.20H49.10M47.50,488.60V491.80" stroke="#3c4a64" stroke-width="1"/>
<path d="M53.20,477.30H56.40M54.80,475.70V478.90" stroke="#3c4a64" stroke-width="1"/>
<path d="M56.50,477.30H59.70M58.10,475.70V478.90" stroke="#3c4a64" stroke-width="1"/>
<path d="M63.40,471.20H66.60M65.00,469.60V472.80" stroke="#3c4a64" stroke-width="1"/>
<path d="M67.90,471.20H71.10M69.50,469.60V472.80" stroke="#3c4a64" stroke-width="1"/>
<path d="M78.60,471.20H81.80M80.20,469.60V472.80" stroke="#3c4a64" stroke-width="1"/>
<path d="M93.70,470.20H96.90M95.30,468.60V471.80" stroke="#3c4a64" stroke-width="1"/>
<path d="M120.20,451.90H123.40M121.80,450.30V453.50" stroke="#3c4a64" stroke-width="1"/>
<path d="M127.80,452.00H131.00M129.40,450.40V453.60" stroke="#3c4a64" stroke-width="1"/>
<path d="M129.70,452.00H132.90M131.30,450.40V453.60" stroke="#3c4a64" stroke-width="1"/>
<path d="M137.30,452.00H140.50M138.90,450.40V453.60" stroke="#3c4a64" stroke-width="1"/>
<path d="M145.60,445.80H148.80M147.20,444.20V447.40" stroke="#3c4a64" stroke-width="1"/>
<path d="M153.30,439.60H156.50M154.90,438.00V441.20" stroke="#3c4a64" stroke-width="1"/>
<path d="M163.30,433.20H166.50M164.90,431.60V434.80" stroke="#3c4a64" stroke-width="1"/>
<path d="M47.50,490.20 L54.80,486.90 L58.10,487.70 L65.00,481.20 L69.50,482.30 L80.20,479.80 L95.30,476.70 L121.80,465.80 L129.40,459.70 L131.30,453.50 L138.90,453.50 L147.20,453.50 L154.90,436.50 L164.90,428.10" fill="none" stroke="#46186f" stroke-width="1.4" stroke-linejoin="round"/>
<path d="M45.63,491.70L49.37,491.70L47.50,488.33Z" fill="#46186f"/>
<path d="M52.93,488.40L56.67,488.40L54.80,485.03Z" fill="#46186f"/>
<path d="M56.23,489.20L59.97,489.20L58.10,485.83Z" fill="#46186f"/>
<path d="M63.13,482.70L66.87,482.70L65.00,479.33Z" fill="#46186f"/>
<path d="M67.63,483.80L71.37,483.80L69.50,480.43Z" fill="#46186f"/>
<path d="M78.33,481.30L82.07,481.30L80.20,477.93Z" fill="#46186f"/>
<path d="M93.43,478.20L97.17,478.20L95.30,474.83Z" fill="#46186f"/>
<path d="M119.93,467.30L123.67,467.30L121.80,463.93Z" fill="#46186f"/>
<path d="M127.53,461.20L131.27,461.20L129.40,457.83Z" fill="#46186f"/>
<path d="M129.43,455.00L133.17,455.00L131.30,451.63Z" fill="#46186f"/>
<path d="M137.03,455.00L140.77,455.00L138.90,451.63Z" fill="#46186f"/>
<path d="M145.33,455.00L149.07,455.00L147.20,451.63Z" fill="#46186f"/>
<path d="M153.03,438.00L156.77,438.00L154.90,434.63Z" fill="#46186f"/>
<path d="M163.03,429.60L166.77,429.60L164.90,426.23Z" fill="#46186f"/>
<path d="M47.50,490.20 L54.80,486.00 L58.10,485.00 L65.00,480.50 L69.50,478.50 L80.20,472.00 L95.30,458.50 L121.80,433.20 L129.40,427.60 L131.30,422.40 L138.90,422.40 L147.20,422.40 L154.90,418.80 L164.90,402.20" fill="none" stroke="#62a83c" stroke-width="1.4" stroke-linejoin="round"/>
<rect x="45.72" y="488.41" width="3.57" height="3.57" fill="#62a83c"/>
<rect x="53.02" y="484.21" width="3.57" height="3.57" fill="#62a83c"/>
<rect x="56.32" y="483.21" width="3.57" height="3.57" fill="#62a83c"/>
<rect x="63.22" y="478.71" width="3.57" height="3.57" fill="#62a83c"/>
<rect x="67.72" y="476.71" width="3.57" height="3.57" fill="#62a83c"/>
<rect x="78.42" y="470.21" width="3.57" height="3.57" fill="#62a83c"/>
<rect x="93.52" y="456.71" width="3.57" height="3.57" fill="#62a83c"/>
<rect x="120.02" y="431.41" width="3.57" height="3.57" fill="#62a83c"/>
<rect x="127.62" y="425.81" width="3.57" height="3.57" fill="#62a83c"/>
<rect x="129.52" y="420.61" width="3.57" height="3.57" fill="#62a83c"/>
<rect x="137.12" y="420.61" width="3.57" height="3.57" fill="#62a83c"/>
<rect x="145.41" y="420.61" width="3.57" height="3.57" fill="#62a83c"/>
<rect x="153.12" y="417.01" width="3.57" height="3.57" fill="#62a83c"/>
<rect x="163.12" y="400.41" width="3.57" height="3.57" fill="#62a83c"/>
<path d="M47.50,490.20 L54.80,484.20 L58.10,484.60 L65.00,476.50 L69.50,476.90 L80.20,471.60 L95.30,463.50 L121.80,440.00 L129.40,436.50 L131.30,431.50 L138.90,431.50 L147.20,428.80 L154.90,415.00 L164.90,410.00" fill="none" stroke="#a6022c" stroke-width="1.5" stroke-linejoin="round"/>
<circle cx="47.5" cy="490.2" r="1.9949999999999999" fill="#a6022c"/>
<circle cx="54.8" cy="484.2" r="1.9949999999999999" fill="#a6022c"/>
<circle cx="58.1" cy="484.6" r="1.9949999999999999" fill="#a6022c"/>
<circle cx="65" cy="476.5" r="1.9949999999999999" fill="#a6022c"/>
<circle cx="69.5" cy="476.9" r="1.9949999999999999" fill="#a6022c"/>
<circle cx="80.2" cy="471.6" r="1.9949999999999999" fill="#a6022c"/>
<circle cx="95.3" cy="463.5" r="1.9949999999999999" fill="#a6022c"/>
<circle cx="121.8" cy="440" r="1.9949999999999999" fill="#a6022c"/>
<circle cx="129.4" cy="436.5" r="1.9949999999999999" fill="#a6022c"/>
<circle cx="131.3" cy="431.5" r="1.9949999999999999" fill="#a6022c"/>
<circle cx="138.9" cy="431.5" r="1.9949999999999999" fill="#a6022c"/>
<circle cx="147.2" cy="428.8" r="1.9949999999999999" fill="#a6022c"/>
<circle cx="154.9" cy="415" r="1.9949999999999999" fill="#a6022c"/>
<circle cx="164.9" cy="410" r="1.9949999999999999" fill="#a6022c"/>
<path d="M47.50,490.20 L54.80,486.20 L58.10,485.00 L65.00,481.50 L69.50,479.60 L80.20,475.50 L95.30,470.00 L121.80,450.30 L129.40,448.10 L131.30,443.00 L138.90,443.00 L147.20,441.50 L154.90,430.70 L164.90,419.60" fill="none" stroke="#213f7e" stroke-width="1.5" stroke-linejoin="round"/>
<circle cx="47.5" cy="490.2" r="1.9949999999999999" fill="#213f7e"/>
<circle cx="54.8" cy="486.2" r="1.9949999999999999" fill="#213f7e"/>
<circle cx="58.1" cy="485" r="1.9949999999999999" fill="#213f7e"/>
<circle cx="65" cy="481.5" r="1.9949999999999999" fill="#213f7e"/>
<circle cx="69.5" cy="479.6" r="1.9949999999999999" fill="#213f7e"/>
<circle cx="80.2" cy="475.5" r="1.9949999999999999" fill="#213f7e"/>
<circle cx="95.3" cy="470" r="1.9949999999999999" fill="#213f7e"/>
<circle cx="121.8" cy="450.3" r="1.9949999999999999" fill="#213f7e"/>
<circle cx="129.4" cy="448.1" r="1.9949999999999999" fill="#213f7e"/>
<circle cx="131.3" cy="443" r="1.9949999999999999" fill="#213f7e"/>
<circle cx="138.9" cy="443" r="1.9949999999999999" fill="#213f7e"/>
<circle cx="147.2" cy="441.5" r="1.9949999999999999" fill="#213f7e"/>
<circle cx="154.9" cy="430.7" r="1.9949999999999999" fill="#213f7e"/>
<circle cx="164.9" cy="419.6" r="1.9949999999999999" fill="#213f7e"/>
<path d="M191,390.40H199" stroke="#213f7e" stroke-width="1.7"/>
<circle cx="195" cy="390.4" r="1.9949999999999999" fill="#213f7e"/>
<text x="202" y="393.29999999999995" font-size="8.2" text-anchor="start" font-weight="normal" fill="#1a1a1a" textLength="16" lengthAdjust="spacingAndGlyphs" stroke="#1a1a1a" stroke-width="0.2">FVIII</text>
<path d="M191,399.12H199" stroke="#a6022c" stroke-width="1.7"/>
<circle cx="195" cy="399.12" r="1.9949999999999999" fill="#a6022c"/>
<text x="202" y="402.02" font-size="8.2" text-anchor="start" font-weight="normal" fill="#1a1a1a" textLength="38.5" lengthAdjust="spacingAndGlyphs" stroke="#1a1a1a" stroke-width="0.2">A1 Domain</text>
<path d="M191,407.84H199" stroke="#62a83c" stroke-width="1.7"/>
<rect x="193.00" y="405.84" width="3.99" height="3.99" fill="#62a83c"/>
<text x="202" y="410.73999999999995" font-size="8.2" text-anchor="start" font-weight="normal" fill="#1a1a1a" textLength="38.5" lengthAdjust="spacingAndGlyphs" stroke="#1a1a1a" stroke-width="0.2">A2 Domain</text>
<path d="M191,416.56H199" stroke="#46186f" stroke-width="1.7"/>
<path d="M192.91,418.23L197.09,418.23L195.00,414.47Z" fill="#46186f"/>
<text x="202" y="419.46" font-size="8.2" text-anchor="start" font-weight="normal" fill="#1a1a1a" textLength="38.5" lengthAdjust="spacingAndGlyphs" stroke="#1a1a1a" stroke-width="0.2">A3 Domain</text>
<path d="M191,425.28H199" stroke="#e9920f" stroke-width="1.7"/>
<path d="M192.91,423.61L197.09,423.61L195.00,427.37Z" fill="#e9920f"/>
<text x="202" y="428.17999999999995" font-size="8.2" text-anchor="start" font-weight="normal" fill="#1a1a1a" textLength="38.5" lengthAdjust="spacingAndGlyphs" stroke="#1a1a1a" stroke-width="0.2">C1 Domain</text>
<path d="M191,434.00H199" stroke="#3c4a64" stroke-width="1.7"/>
<path d="M193.10,434.00H196.90M195.00,432.10V435.90" stroke="#3c4a64" stroke-width="1"/>
<text x="202" y="436.9" font-size="8.2" text-anchor="start" font-weight="normal" fill="#1a1a1a" textLength="38.5" lengthAdjust="spacingAndGlyphs" stroke="#1a1a1a" stroke-width="0.2">C2 Domain</text>
<text x="268.2" y="379.6" font-size="12.4" text-anchor="start" font-weight="bold" fill="#000" stroke="#000" stroke-width="0.35">F</text>
<path d="M313,381.75V494.45" stroke="#000" stroke-width="1.35" fill="none"/>
<path d="M309.8,491.25H445.4" stroke="#000" stroke-width="1.35" fill="none"/>
<path d="M309.8,491.25H313M309.8,464.50H313M309.8,437.75H313M309.8,411.00H313M309.8,384.25H313M311.4,485.90H313M311.4,480.55H313M311.4,475.20H313M311.4,469.85H313M311.4,459.15H313M311.4,453.80H313M311.4,448.45H313M311.4,443.10H313M311.4,432.40H313M311.4,427.05H313M311.4,421.70H313M311.4,416.35H313M311.4,405.65H313M311.4,400.30H313M311.4,394.95H313M311.4,389.60H313M313.00,491.25V494.45M334.60,491.25V494.45M356.20,491.25V494.45M377.80,491.25V494.45M399.40,491.25V494.45M421.00,491.25V494.45M442.60,491.25V494.45M323.80,491.25V492.85M345.40,491.25V492.85M367.00,491.25V492.85M388.60,491.25V492.85M410.20,491.25V492.85M431.80,491.25V492.85" stroke="#000" stroke-width="1.05" fill="none"/>
<text x="306.5" y="494.35" font-size="8.6" text-anchor="end" font-weight="normal" fill="#1a1a1a" stroke="#1a1a1a" stroke-width="0.1">0</text>
<text x="306.5" y="467.6" font-size="8.6" text-anchor="end" font-weight="normal" fill="#1a1a1a" stroke="#1a1a1a" stroke-width="0.1">10</text>
<text x="306.5" y="440.85" font-size="8.6" text-anchor="end" font-weight="normal" fill="#1a1a1a" stroke="#1a1a1a" stroke-width="0.1">20</text>
<text x="306.5" y="414.1" font-size="8.6" text-anchor="end" font-weight="normal" fill="#1a1a1a" stroke="#1a1a1a" stroke-width="0.1">30</text>
<text x="306.5" y="387.35" font-size="8.6" text-anchor="end" font-weight="normal" fill="#1a1a1a" stroke="#1a1a1a" stroke-width="0.1">40</text>
<text x="313.0" y="505.25" font-size="8.6" text-anchor="middle" font-weight="normal" fill="#1a1a1a" stroke="#1a1a1a" stroke-width="0.1">0</text>
<text x="334.6" y="505.25" font-size="8.6" text-anchor="middle" font-weight="normal" fill="#1a1a1a" stroke="#1a1a1a" stroke-width="0.1">20</text>
<text x="356.2" y="505.25" font-size="8.6" text-anchor="middle" font-weight="normal" fill="#1a1a1a" stroke="#1a1a1a" stroke-width="0.1">40</text>
<text x="377.8" y="505.25" font-size="8.6" text-anchor="middle" font-weight="normal" fill="#1a1a1a" stroke="#1a1a1a" stroke-width="0.1">60</text>
<text x="399.4" y="505.25" font-size="8.6" text-anchor="middle" font-weight="normal" fill="#1a1a1a" stroke="#1a1a1a" stroke-width="0.1">80</text>
<text x="421.0" y="505.25" font-size="8.6" text-anchor="middle" font-weight="normal" fill="#1a1a1a" stroke="#1a1a1a" stroke-width="0.1">100</text>
<text x="442.6" y="505.25" font-size="8.6" text-anchor="middle" font-weight="normal" fill="#1a1a1a" stroke="#1a1a1a" stroke-width="0.1">120</text>
<text transform="translate(291.4,435.9) rotate(-90)" font-size="10.2" text-anchor="middle" font-weight="normal" fill="#1a1a1a" textLength="76" lengthAdjust="spacingAndGlyphs" word-spacing="1.4" stroke="#1a1a1a" stroke-width="0.4">Amino acid substitutions</text>
<text x="378.9" y="519" font-size="9.5" text-anchor="middle" font-weight="normal" fill="#1a1a1a" textLength="99" lengthAdjust="spacingAndGlyphs" word-spacing="1.6" stroke="#1a1a1a" stroke-width="0.4">Age of common ancestry (mya)</text>
<path d="M313.00,491.25 L320.30,486.00 L323.00,480.70 L334.80,472.80 L359.30,462.10 L385.30,451.40 L392.70,448.90 L394.60,437.80 L401.50,438.20 L410.20,437.80 L417.30,430.10 L426.50,418.80" fill="none" stroke="#213f7e" stroke-width="1.6" stroke-linejoin="round"/>
<rect x="310.90" y="489.15" width="4.20" height="4.20" fill="#213f7e"/>
<rect x="318.20" y="483.90" width="4.20" height="4.20" fill="#213f7e"/>
<rect x="320.90" y="478.60" width="4.20" height="4.20" fill="#213f7e"/>
<rect x="332.70" y="470.70" width="4.20" height="4.20" fill="#213f7e"/>
<rect x="357.20" y="460.00" width="4.20" height="4.20" fill="#213f7e"/>
<rect x="383.20" y="449.30" width="4.20" height="4.20" fill="#213f7e"/>
<rect x="390.60" y="446.80" width="4.20" height="4.20" fill="#213f7e"/>
<rect x="392.50" y="435.70" width="4.20" height="4.20" fill="#213f7e"/>
<rect x="399.40" y="436.10" width="4.20" height="4.20" fill="#213f7e"/>
<rect x="408.10" y="435.70" width="4.20" height="4.20" fill="#213f7e"/>
<rect x="415.20" y="428.00" width="4.20" height="4.20" fill="#213f7e"/>
<rect x="424.40" y="416.70" width="4.20" height="4.20" fill="#213f7e"/>
<path d="M313.00,491.25 L320.30,483.40 L323.00,482.90 L330.10,475.50 L334.80,475.50 L344.60,470.00 L359.30,467.60 L385.30,446.30 L392.70,443.20 L394.60,438.60 L401.50,438.20 L410.20,435.40 L417.30,408.40 L426.50,395.20" fill="none" stroke="#a6022c" stroke-width="1.6" stroke-linejoin="round"/>
<circle cx="313" cy="491.25" r="2.1" fill="#a6022c"/>
<circle cx="320.3" cy="483.4" r="2.1" fill="#a6022c"/>
<circle cx="323" cy="482.9" r="2.1" fill="#a6022c"/>
<circle cx="330.1" cy="475.5" r="2.1" fill="#a6022c"/>
<circle cx="334.8" cy="475.5" r="2.1" fill="#a6022c"/>
<circle cx="344.6" cy="470" r="2.1" fill="#a6022c"/>
<circle cx="359.3" cy="467.6" r="2.1" fill="#a6022c"/>
<circle cx="385.3" cy="446.3" r="2.1" fill="#a6022c"/>
<circle cx="392.7" cy="443.2" r="2.1" fill="#a6022c"/>
<circle cx="394.6" cy="438.6" r="2.1" fill="#a6022c"/>
<circle cx="401.5" cy="438.2" r="2.1" fill="#a6022c"/>
<circle cx="410.2" cy="435.4" r="2.1" fill="#a6022c"/>
<circle cx="417.3" cy="408.4" r="2.1" fill="#a6022c"/>
<circle cx="426.5" cy="395.2" r="2.1" fill="#a6022c"/>
<path d="M446.6,388.90H454.6" stroke="#a6022c" stroke-width="1.7"/>
<circle cx="450.6" cy="388.9" r="1.9949999999999999" fill="#a6022c"/>
<text x="457.6" y="391.79999999999995" font-size="8.2" text-anchor="start" font-weight="normal" fill="#1a1a1a" textLength="52.2" lengthAdjust="spacingAndGlyphs" stroke="#1a1a1a" stroke-width="0.2">FVIII light chain</text>
<path d="M446.6,400.80H454.6" stroke="#213f7e" stroke-width="1.7"/>
<rect x="448.61" y="398.80" width="3.99" height="3.99" fill="#213f7e"/>
<text x="457.6" y="403.69999999999993" font-size="8.2" text-anchor="start" font-weight="normal" fill="#1a1a1a" textLength="36.8" lengthAdjust="spacingAndGlyphs" stroke="#1a1a1a" stroke-width="0.2">VWF D&#8217;D3</text>
<rect x="0" y="0" width="520" height="1.05" fill="#000"/><rect x="0" y="0" width="1.3" height="529" fill="#000"/>
<rect x="518.8" y="0" width="1.2" height="529" fill="#000"/>
<rect x="0" y="527.8" width="520" height="1.2" fill="#000"/>
</svg>
</body></html>
